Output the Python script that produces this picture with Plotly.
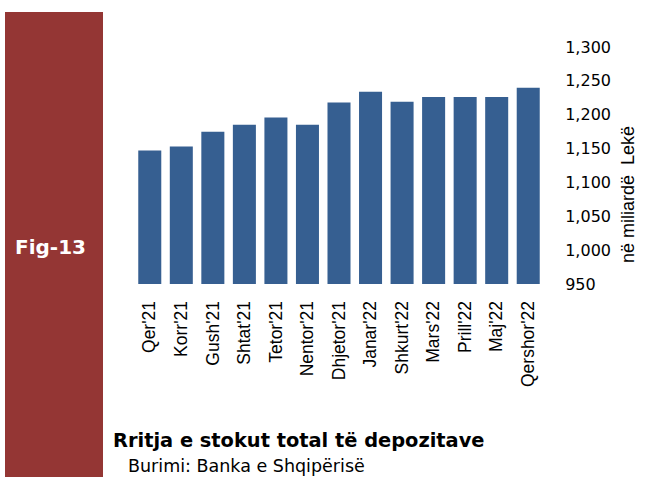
import plotly.graph_objects as go

months = ["Qer'21", "Korr'21", "Gush'21", "Shtat'21", "Tetor'21", "Nentor'21",
          "Dhjetor'21", "Janar'22", "Shkurt'22", "Mars'22", "Prill'22", "Maj'22", "Qershor'22"]
deposits = [1147, 1153, 1175, 1185, 1196, 1185, 1218, 1234, 1219, 1226, 1226, 1226, 1240]

W, H = 646, 477
L, R, T, B = 134, 102, 47, 193
PW, PH = W - L - R, H - T - B


def px(x):
    return (x - L) / PW


def py(y):
    return (H - B - y) / PH


fig = go.Figure()
fig.add_trace(go.Bar(x=months, y=deposits, marker=dict(color="#365F91", line=dict(width=0))))

fig.update_layout(
    width=W, height=H,
    margin=dict(l=L, r=R, t=T, b=B),
    paper_bgcolor="white", plot_bgcolor="white",
    bargap=0.27,
    showlegend=False,
    xaxis=dict(
        tickangle=-90,
        tickfont=dict(family="Liberation Sans", size=17.5, color="#000000"),
        showgrid=False, showline=False, zeroline=False,
        ticks="outside", ticklen=9, tickcolor="rgba(0,0,0,0)",
    ),
    yaxis=dict(
        side="right",
        range=[950, 1300],
        dtick=50,
        tickformat=",",
        tickfont=dict(family="DejaVu Sans", size=16, color="#000000"),
        showgrid=False, showline=False, zeroline=False,
        ticks="outside", ticklen=17, tickcolor="rgba(0,0,0,0)",
    ),
    shapes=[
        dict(type="rect", xref="paper", yref="paper",
             x0=px(5), x1=px(103), y0=py(477), y1=py(12),
             fillcolor="#943634", line=dict(width=0), layer="above"),
    ],
    annotations=[
        dict(text="Fig-13", xref="paper", yref="paper", x=px(50), y=py(247),
             xanchor="center", yanchor="middle", showarrow=False,
             font=dict(family="DejaVu Sans", size=20, color="white", weight="bold")),
        dict(text="në miliardë  Lekë", xref="paper", yref="paper", x=px(628), y=py(195),
             xanchor="center", yanchor="middle", showarrow=False, textangle=-90,
             font=dict(family="Liberation Sans", size=18, color="#000000")),
        dict(text="Rritja e stokut total të depozitave", xref="paper", yref="paper",
             x=px(111), y=py(440), xanchor="left", yanchor="middle", showarrow=False,
             font=dict(family="DejaVu Sans", size=19.4, color="#000000", weight="bold")),
        dict(text="Burimi: Banka e Shqipërisë", xref="paper", yref="paper",
             x=px(126), y=py(466), xanchor="left", yanchor="middle", showarrow=False,
             font=dict(family="DejaVu Sans", size=17.5, color="#000000")),
    ],
)

fig.write_html("out.html", config={"displayModeBar": False},
               post_script="document.body.style.margin='0';document.body.style.overflow='hidden';")
